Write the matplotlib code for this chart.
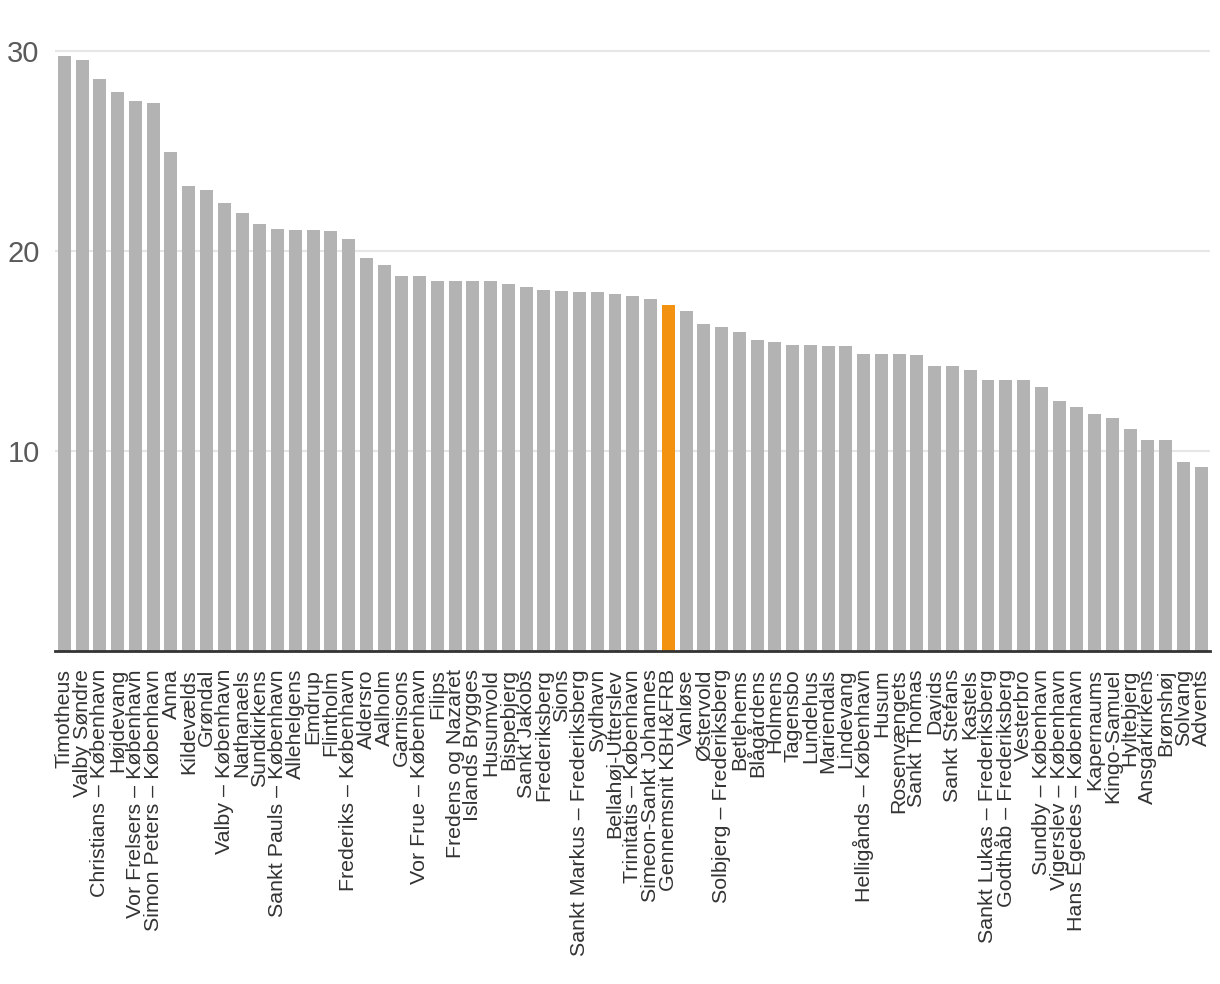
import matplotlib.pyplot as plt
import numpy as np

# Sogne (parishes) and values
sogne = [
    'Timotheus', 'Valby Søndre', 'Christians – København', 'Højdevang',
    'Vor Frelsers – København', 'Simon Peters – København', 'Anna', 'Kildevælds',
    'Grøndal', 'Valby – København', 'Nathanaels', 'Sundkirkens',
    'Sankt Pauls – København', 'Allehelgens', 'Emdrup', 'Flintholm',
    'Frederiks – København', 'Aldersro', 'Aalholm', 'Garnisons',
    'Vor Frue – København', 'Filips', 'Fredens og Nazaret', 'Islands Brygges',
    'Husumvold', 'Bispebjerg', 'Sankt Jakobs', 'Frederiksberg', 'Sions',
    'Sankt Markus – Frederiksberg', 'Sydhavn', 'Bellahøj-Utterslev',
    'Trinitatis – København', 'Simeon-Sankt Johannes', 'Gennemsnit KBH&FRB',
    'Vanløse', 'Østervold', 'Solbjerg – Frederiksberg', 'Betlehems', 'Blågårdens',
    'Holmens', 'Tagensbo', 'Lundehus', 'Mariendals', 'Lindevang',
    'Helligånds – København', 'Husum', 'Rosenvængets', 'Sankt Thomas', 'Davids',
    'Sankt Stefans', 'Kastels', 'Sankt Lukas – Frederiksberg',
    'Godthåb – Frederiksberg', 'Vesterbro', 'Sundby – København',
    'Vigerslev – København', 'Hans Egedes – København', 'Kapernaums',
    'Kingo-Samuel', 'Hyltebjerg', 'Ansgarkirkens', 'Brønshøj', 'Solvang', 'Advents',
]
vaerdier = [
    29.75, 29.55, 28.6, 27.95, 27.5, 27.4, 24.95, 23.25, 23.05, 22.4,
    21.9, 21.35, 21.1, 21.05, 21.05, 21.0, 20.6, 19.65, 19.3, 18.75,
    18.75, 18.5, 18.5, 18.5, 18.5, 18.35, 18.2, 18.05, 18.0, 17.95,
    17.95, 17.85, 17.75, 17.6, 17.3, 17.0, 16.35, 16.2, 15.95, 15.55,
    15.45, 15.3, 15.3, 15.25, 15.25, 14.85, 14.85, 14.85, 14.8, 14.25,
    14.25, 14.05, 13.55, 13.55, 13.55, 13.2, 12.5, 12.2, 11.85, 11.65,
    11.1, 10.55, 10.55, 9.45, 9.2,
]
yTicks = [10, 20, 30]
fremhaev = 'Gennemsnit KBH&FRB'

plt.rcParams['font.family'] = ['Liberation Sans', 'DejaVu Sans']

fig = plt.figure(figsize=(12.2, 9.84), dpi=100)
ax = fig.add_axes([55 / 1220, 1 - 651 / 984, 1155 / 1220, 609 / 984])

farver = ['#f39110' if s == fremhaev else '#b3b3b3' for s in sogne]
x = np.arange(len(sogne))
ax.bar(x, vaerdier, width=0.73, color=farver, zorder=2)

ax.set_xlim(-0.53, len(sogne) - 0.5)
ax.set_ylim(0, 30.45)
ax.set_yticks(yTicks)
ax.set_yticklabels([str(t) for t in yTicks], fontsize=21, color='#5a5a5a', va='center_baseline')
ax.yaxis.grid(True, color='#e6e6e6', linewidth=1.5, zorder=0)
ax.tick_params(axis='y', length=0, pad=11)

ax.set_xticks(x)
ax.set_xticklabels(sogne, rotation=90, fontsize=15.4, color='#333333', va='top', ha='center')
ax.tick_params(axis='x', length=0, pad=13)

for side in ['top', 'right', 'left']:
    ax.spines[side].set_visible(False)
ax.spines['bottom'].set_color('#333333')
ax.spines['bottom'].set_linewidth(2)
ax.spines['bottom'].set_zorder(3)

fig.savefig('out.png', dpi=100)
